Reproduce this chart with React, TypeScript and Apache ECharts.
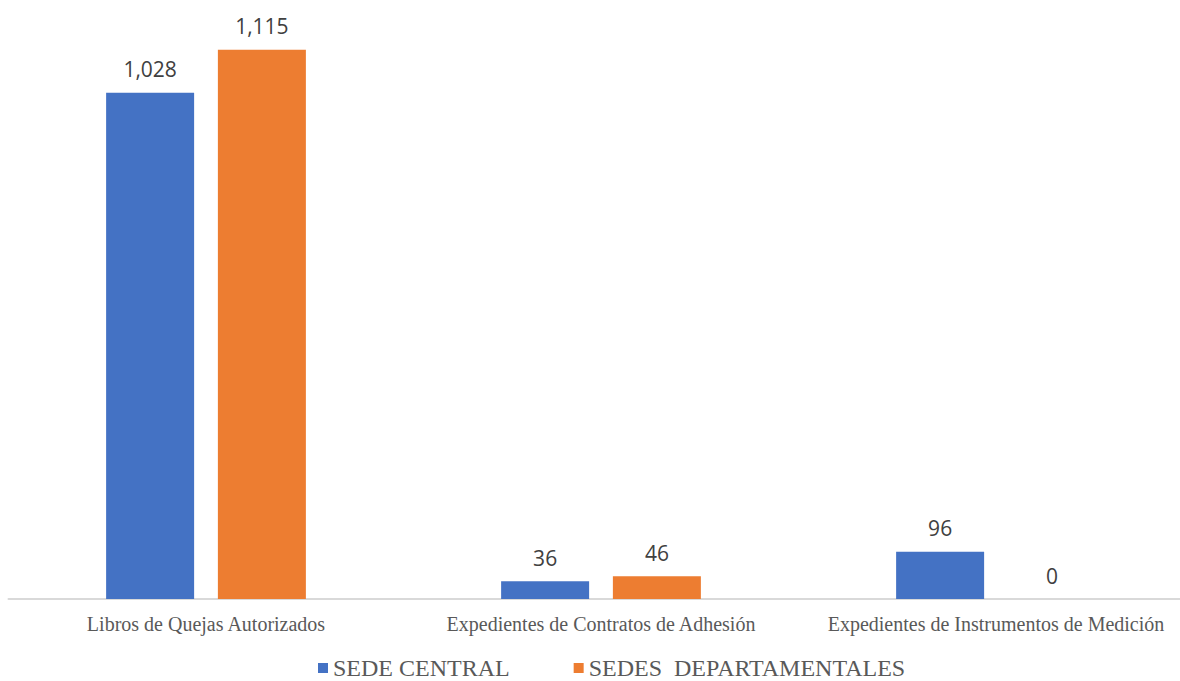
import React, { useEffect, useRef } from "react";
import * as echarts from "echarts";

const categories = [
  "Libros de Quejas Autorizados",
  "Expedientes de Contratos de Adhesión",
  "Expedientes de Instrumentos de Medición",
];
const sedeCentral = [1028, 36, 96];
const sedesDepartamentales = [1115, 46, 0];
const seriesNames = ["SEDE CENTRAL", "SEDES  DEPARTAMENTALES"];

export default function App() {
  const ref = useRef<HTMLDivElement>(null);
  useEffect(() => {
    if (!ref.current) return;
    const chart = echarts.init(ref.current, undefined, { renderer: "svg" });
    const label = {
      show: true,
      position: "top" as const,
      distance: 13,
      color: "#404040",
      fontFamily: "Open Sans, Carlito, sans-serif",
      fontSize: 21,
      formatter: (p: any) => Number(p.value).toLocaleString("en-US"),
    };
    chart.setOption({
      animation: false,
      backgroundColor: "#ffffff",
      grid: {
        left: 8.5,
        width: 1185,
        top: 8,
        bottom: 82,
        containLabel: false,
        outerBoundsMode: "none",
      },
      legend: {
        left: 318,
        top: 656,
        itemWidth: 10,
        itemHeight: 10,
        itemGap: 64,
        icon: "rect",
        padding: 0,
        textStyle: {
          fontFamily: "Liberation Serif",
          fontSize: 24,
          lineHeight: 24,
          color: "#595959",
        },
        data: seriesNames,
      },
      xAxis: {
        type: "category",
        data: categories,
        axisLine: { show: true, lineStyle: { color: "#d9d9d9", width: 2 } },
        axisTick: { show: false },
        axisLabel: {
          margin: 15,
          interval: 0,
          color: "#595959",
          fontFamily: "Liberation Serif",
          fontSize: 20,
        },
      },
      yAxis: {
        type: "value",
        min: 0,
        max: 1200,
        show: false,
        splitLine: { show: false },
      },
      series: [
        {
          name: seriesNames[0],
          type: "bar",
          data: sedeCentral,
          barWidth: 88,
          barGap: "27%",
          itemStyle: { color: "#4472C4" },
          label,
        },
        {
          name: seriesNames[1],
          type: "bar",
          data: sedesDepartamentales,
          barWidth: 88,
          itemStyle: { color: "#ED7D31" },
          label,
        },
      ],
    });
    return () => chart.dispose();
  }, []);
  return (
    <div
      ref={ref}
      style={{ position: "absolute", left: 0, top: 0, width: 1180, height: 681 }}
    />
  );
}
